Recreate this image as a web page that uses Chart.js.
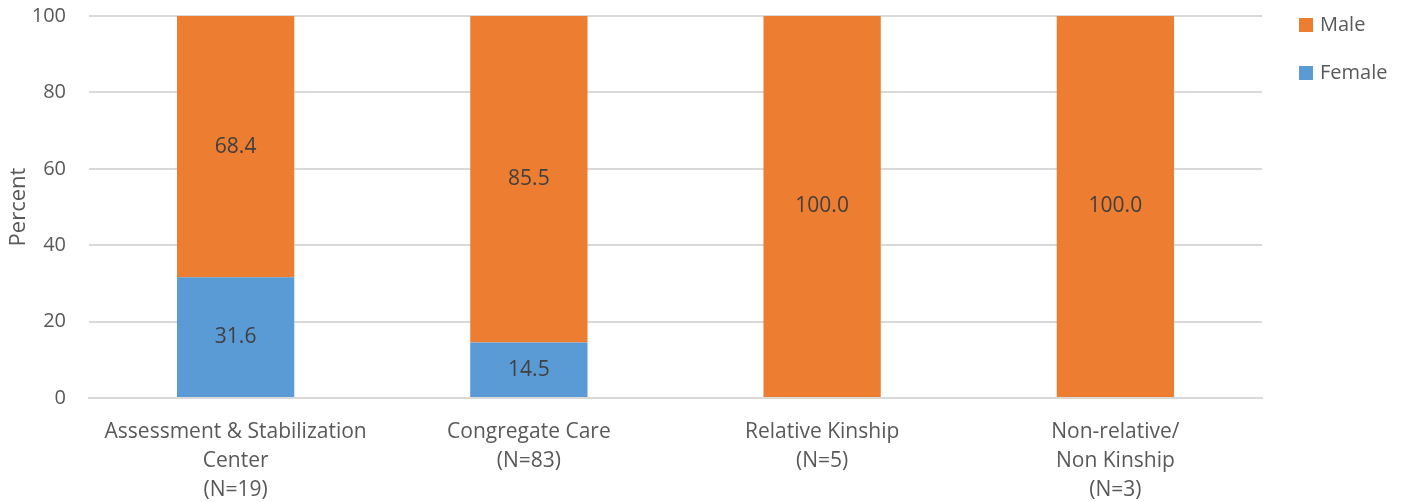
<!DOCTYPE html>
<html>
<head>
<meta charset="utf-8">
<script src="https://cdn.jsdelivr.net/npm/chart.js@4/dist/chart.umd.min.js"></script>
<style>
  body { margin: 0; background: #fff; }
  #wrap { width: 1407px; height: 502px; }
</style>
</head>
<body>
<div id="wrap"><canvas id="chart" width="1407" height="502"></canvas></div>
<script>
// categories (multi-line labels) and values, percent
const categories = [
    ['Assessment & Stabilization', 'Center', '(N=19)'],
    ['Congregate Care', '(N=83)'],
    ['Relative Kinship', '(N=5)'],
    ['Non-relative/', 'Non Kinship', '(N=3)']
];
const female = [31.6, 14.5, 0, 0];
const male = [68.4, 85.5, 100.0, 100.0];
const yTicks = [0, 20, 40, 60, 80, 100];

const FONT = '"Open Sans", sans-serif';
const TEXT = '#595959';

// draw value labels in the middle of each segment, skip zeros
const valueLabels = {
    id: 'valueLabels',
    afterDatasetsDraw(chart) {
        const ctx = chart.ctx;
        ctx.save();
        ctx.font = '21px ' + FONT;
        ctx.fillStyle = '#404040';
        ctx.textAlign = 'center';
        ctx.textBaseline = 'middle';
        chart.data.datasets.forEach(function(ds, i) {
            chart.getDatasetMeta(i).data.forEach(function(bar, j) {
                var v = ds.data[j];
                if (!v) return;
                var p = bar.getProps(['x', 'y', 'base'], true);
                ctx.fillText(v.toFixed(1), p.x, (p.y + p.base) / 2);
            });
        });
        ctx.restore();
    }
};

// legend on the right, top aligned, Male first
const sideLegend = {
    id: 'sideLegend',
    afterDraw(chart) {
        const ctx = chart.ctx;
        const x = chart.chartArea.right + 37;
        ctx.save();
        ctx.font = '20px ' + FONT;
        ctx.textBaseline = 'middle';
        ctx.textAlign = 'left';
        chart.data.datasets.slice().reverse().forEach(function(ds, k) {
            var cy = 25 + k * 48;
            ctx.fillStyle = ds.backgroundColor;
            ctx.fillRect(x, cy - 7, 14, 14);
            ctx.fillStyle = TEXT;
            ctx.fillText(ds.label, x + 21, cy);
        });
        ctx.restore();
    }
};

const ch = new Chart(document.getElementById('chart'), {
    type: 'bar',
    data: {
        labels: categories,
        datasets: [
            { label: 'Female', data: female, backgroundColor: '#5B9BD5', categoryPercentage: 1, barPercentage: 0.4 },
            { label: 'Male', data: male, backgroundColor: '#ED7D31', categoryPercentage: 1, barPercentage: 0.4 }
        ]
    },
    options: {
        responsive: false,
        animation: false,
        layout: { autoPadding: false, padding: { top: 16, right: 145, left: 8, bottom: 0 } },
        plugins: {
            legend: { display: false },
            tooltip: { enabled: false }
        },
        scales: {
            x: {
                stacked: true,
                afterFit: function(axis) { axis.height = 104; },
                grid: { display: false },
                border: { color: '#d9d9d9', width: 2 },
                ticks: { color: TEXT, font: { family: FONT, size: 21, lineHeight: 1.38 }, maxRotation: 0, padding: 12 }
            },
            y: {
                stacked: true,
                min: 0,
                max: 100,
                afterFit: function(axis) {
                    axis.width = 81;
                    axis.paddingTop = 0;
                    axis.paddingBottom = 0;
                },
                afterBuildTicks: function(axis) {
                    axis.ticks = yTicks.map(function(v) { return { value: v }; });
                },
                grid: { color: '#d9d9d9', lineWidth: 2, drawTicks: false },
                border: { display: false },
                ticks: { color: TEXT, font: { family: FONT, size: 20 }, padding: 23 },
                title: { display: true, text: 'Percent', color: TEXT, font: { family: FONT, size: 22, lineHeight: 1 }, padding: 0 }
            }
        }
    },
    plugins: [valueLabels, sideLegend]
});
</script>
</body>
</html>
